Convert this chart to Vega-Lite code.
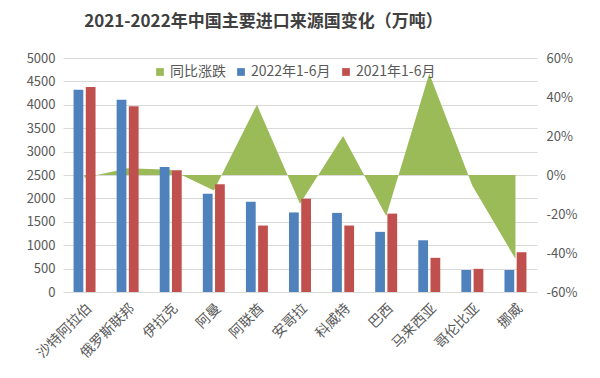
{
  "$schema": "https://vega.github.io/schema/vega-lite/v6.json",
  "width": 474,
  "height": 234,
  "autosize": {"type": "none"},
  "padding": {"left": 63, "top": 58, "right": 63, "bottom": 86},
  "background": "white",
  "config": {
    "font": "Noto Sans CJK SC",
    "view": {"stroke": null},
    "axis": {"labelFont": "Noto Sans CJK SC", "labelColor": "#595959", "domain": false, "ticks": false}
  },
  "title": {
    "text": "2021-2022年中国主要进口来源国变化（万吨）",
    "fontSize": 17,
    "fontWeight": "bold",
    "color": "#404040",
    "anchor": "start",
    "dx": 58,
    "offset": 21
  },
  "datasets": {
    "bars": [
      {"country": "沙特阿拉伯", "series": "2022年1-6月", "value": 4320},
      {"country": "沙特阿拉伯", "series": "2021年1-6月", "value": 4380},
      {"country": "俄罗斯联邦", "series": "2022年1-6月", "value": 4110},
      {"country": "俄罗斯联邦", "series": "2021年1-6月", "value": 3970},
      {"country": "伊拉克", "series": "2022年1-6月", "value": 2670},
      {"country": "伊拉克", "series": "2021年1-6月", "value": 2600},
      {"country": "阿曼", "series": "2022年1-6月", "value": 2100},
      {"country": "阿曼", "series": "2021年1-6月", "value": 2300},
      {"country": "阿联酋", "series": "2022年1-6月", "value": 1930},
      {"country": "阿联酋", "series": "2021年1-6月", "value": 1420},
      {"country": "安哥拉", "series": "2022年1-6月", "value": 1700},
      {"country": "安哥拉", "series": "2021年1-6月", "value": 1990},
      {"country": "科威特", "series": "2022年1-6月", "value": 1690},
      {"country": "科威特", "series": "2021年1-6月", "value": 1420},
      {"country": "巴西", "series": "2022年1-6月", "value": 1285},
      {"country": "巴西", "series": "2021年1-6月", "value": 1675},
      {"country": "马来西亚", "series": "2022年1-6月", "value": 1105},
      {"country": "马来西亚", "series": "2021年1-6月", "value": 730},
      {"country": "哥伦比亚", "series": "2022年1-6月", "value": 470},
      {"country": "哥伦比亚", "series": "2021年1-6月", "value": 495},
      {"country": "挪威", "series": "2022年1-6月", "value": 470},
      {"country": "挪威", "series": "2021年1-6月", "value": 850}
    ],
    "pct": [
      {"country": "沙特阿拉伯", "pct": -0.014},
      {"country": "俄罗斯联邦", "pct": 0.035},
      {"country": "伊拉克", "pct": 0.027},
      {"country": "阿曼", "pct": -0.08},
      {"country": "阿联酋", "pct": 0.36},
      {"country": "安哥拉", "pct": -0.148},
      {"country": "科威特", "pct": 0.2},
      {"country": "巴西", "pct": -0.21},
      {"country": "马来西亚", "pct": 0.52},
      {"country": "哥伦比亚", "pct": -0.055},
      {"country": "挪威", "pct": -0.43}
    ]
  },
  "encoding": {
    "x": {
      "field": "country",
      "type": "nominal",
      "sort": null,
      "scale": {"paddingInner": 0.49, "paddingOuter": 0.245},
      "axis": {"title": null, "labelAngle": -45, "labelFontSize": 14, "labelPadding": 9, "grid": false}
    }
  },
  "layer": [
    {
      "data": {"name": "pct"},
      "mark": {"type": "area", "color": "#9BBB59", "opacity": 1, "interpolate": "linear"},
      "encoding": {
        "y": {
          "field": "pct",
          "type": "quantitative",
          "scale": {"domain": [-0.6, 0.6], "nice": false, "zero": false},
          "axis": {"orient": "right", "title": null, "values": [-0.6, -0.4, -0.2, 0, 0.2, 0.4, 0.6], "labelExpr": "replace(format(datum.value, '.0%'), '\u2212', '-')", "labelFontSize": 13, "labelPadding": 9, "grid": false}
        },
        "y2": {"datum": 0},
        "color": {"datum": "同比涨跌", "type": "nominal"}
      }
    },
    {
      "data": {"name": "bars"},
      "mark": {"type": "bar"},
      "encoding": {
        "y": {
          "field": "value",
          "type": "quantitative",
          "scale": {"domain": [0, 5000], "nice": false},
          "axis": {"orient": "left", "title": null, "format": "d", "values": [0, 500, 1000, 1500, 2000, 2500, 3000, 3500, 4000, 4500, 5000], "labelFontSize": 13, "labelPadding": 8, "grid": true, "gridColor": "#D9D9D9", "zindex": 0}
        },
        "xOffset": {"field": "series", "type": "nominal", "sort": ["2022年1-6月", "2021年1-6月"], "scale": {"paddingInner": 0.2}},
        "color": {
          "field": "series",
          "type": "nominal",
          "scale": {"domain": ["同比涨跌", "2022年1-6月", "2021年1-6月"], "range": ["#9BBB59", "#4F81BD", "#C0504D"]},
          "legend": {"title": null, "orient": "none", "legendX": 90, "legendY": 7, "direction": "horizontal", "symbolType": "square", "symbolSize": 60, "labelFontSize": 14, "labelColor": "#595959", "columnPadding": 8, "symbolOffset": 0, "labelOffset": 3}
        }
      }
    }
  ],
  "resolve": {"scale": {"y": "independent"}}
}
